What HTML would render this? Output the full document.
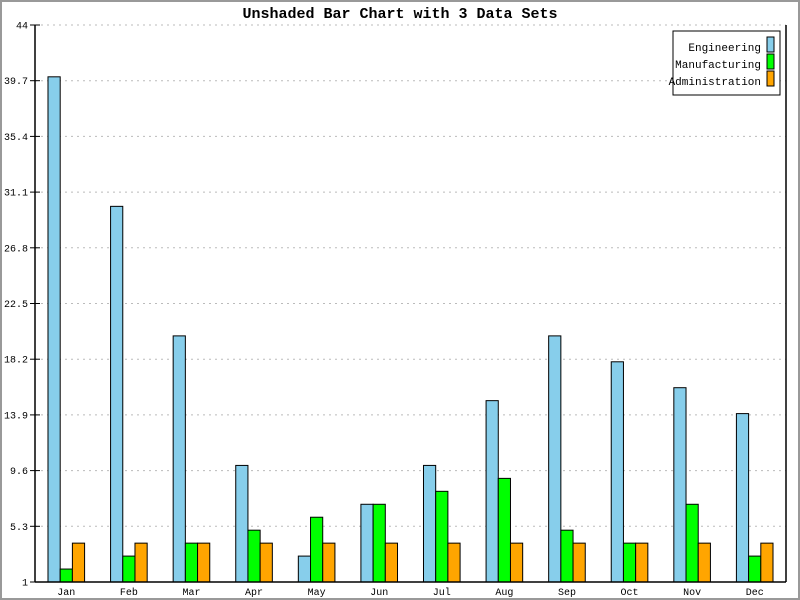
<!DOCTYPE html>
<html><head><meta charset="utf-8"><style>
html,body{margin:0;padding:0;background:#fff}
svg{display:block;font-family:"Liberation Mono","DejaVu Sans Mono",monospace}
</style></head><body>
<svg id="chart" width="800" height="600" xmlns="http://www.w3.org/2000/svg">
<rect x="1" y="1" width="798" height="598" fill="#fff" stroke="#999" stroke-width="2"/>
<text x="400" y="18" text-anchor="middle" font-size="15" font-weight="bold">Unshaded Bar Chart with 3 Data Sets</text>
<g id="grid"></g><g id="bars"></g><g id="axes"></g>
<g>
<rect x="673" y="31" width="107" height="64" fill="#fff" stroke="#000"/>
<text x="761" y="51" text-anchor="end" font-size="11">Engineering</text>
<rect x="767" y="37" width="7" height="15" fill="#87ceeb" stroke="#000"/>
<text x="761" y="68" text-anchor="end" font-size="11">Manufacturing</text>
<rect x="767" y="54" width="7" height="15" fill="#00ff00" stroke="#000"/>
<text x="761" y="85" text-anchor="end" font-size="11">Administration</text>
<rect x="767" y="71" width="7" height="15" fill="#ffa500" stroke="#000"/>
</g>
</svg>
<script>
const categories=["Jan","Feb","Mar","Apr","May","Jun","Jul","Aug","Sep","Oct","Nov","Dec"];
const engineering=[40,30,20,10,3,7,10,15,20,18,16,14];
const manufacturing=[2,3,4,5,6,7,8,9,5,4,7,3];
const administration=[4,4,4,4,4,4,4,4,4,4,4,4];
const yTicks=["1","5.3","9.6","13.9","18.2","22.5","26.8","31.1","35.4","39.7","44"];
const yMin=1,yMax=44;
const L=35,R=786,T=25,B=582;
const NS="http://www.w3.org/2000/svg";
function y(v){return B-(v-yMin)/(yMax-yMin)*(B-T);}
function xc(i){return L+(i+0.5)*(R-L)/categories.length;}
function mk(tag,attrs,parent){const e=document.createElementNS(NS,tag);for(const k in attrs)e.setAttribute(k,attrs[k]);parent.appendChild(e);return e;}
const grid=document.getElementById('grid'),bars=document.getElementById('bars'),axes=document.getElementById('axes');
yTicks.forEach(t=>{const v=parseFloat(t),yy=y(v);
 if(v>yMin){const g=mk('line',{x1:L,x2:R,y1:yy,y2:yy,stroke:'#bbb','stroke-dasharray':'2,4'},grid);
 
 }
 const tk=mk('line',{x1:L-5,x2:L+5,y1:yy,y2:yy,stroke:'#000'},axes);
 
 
 const lb=mk('text',{x:L-7,y:yy+3.5,'text-anchor':'end','font-size':'10'},axes);lb.textContent=t;
 
 
});
const series=[[engineering,'#87ceeb','engineering'],[manufacturing,'#00ff00','manufacturing'],[administration,'#ffa500','administration']];
const bw=12.2;
categories.forEach((c,i)=>{
 series.forEach((s,j)=>{const v=s[0][i];const x0=xc(i)-1.5*bw+j*bw;
  const r=mk('rect',{x:x0,y:y(v),width:bw,height:B-y(v),fill:s[1],stroke:'#000','stroke-width':1},bars);
  
  });
 const lb=mk('text',{x:xc(i),y:595,'text-anchor':'middle','font-size':'10'},axes);lb.textContent=c;
 
 
});
const ya=mk('line',{x1:L,x2:L,y1:T,y2:B,stroke:'#000','stroke-width':1.5},axes);


const ra=mk('line',{x1:R,x2:R,y1:T,y2:B,stroke:'#000','stroke-width':1.5},axes);


const xa=mk('line',{x1:L,x2:R,y1:B,y2:B,stroke:'#000','stroke-width':1.5},axes);


</script>
</body></html>
